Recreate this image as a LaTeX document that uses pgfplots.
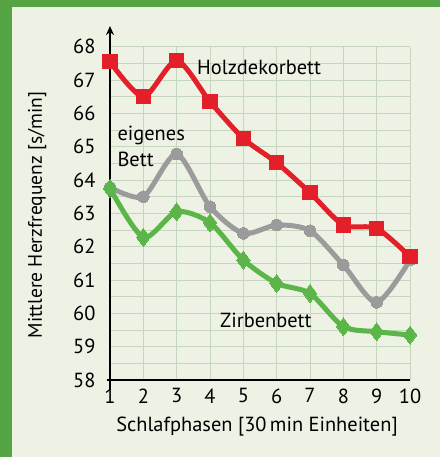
\documentclass[border=0pt]{standalone}
\usepackage{fontspec}
\setmainfont{PT Sans}
\usepackage{pgfplots}
\pgfplotsset{compat=1.18}
\usetikzlibrary{arrows.meta}
\definecolor{bordergreen}{HTML}{55A544}
\definecolor{panel}{HTML}{EDF2E4}
\definecolor{gridc}{HTML}{C6D6BE}
\definecolor{redc}{HTML}{E3202A}
\definecolor{grayc}{HTML}{9B9B9B}
\definecolor{greenc}{HTML}{5CB548}
\begin{document}
\begin{tikzpicture}[x=1bp,y=1bp]
\useasboundingbox (0,0) rectangle (440,-457);
\fill[bordergreen] (0,0) rectangle (440,-457);
\fill[panel] (12,-7) rectangle (440,-457);
\begin{axis}[
 at={(110bp,-380bp)}, anchor=south west,
 scale only axis, width=300bp, height=333.3bp,
 xmin=1,xmax=10,ymin=58,ymax=68,
 xtick={1,...,10}, ytick={58,...,68},
 minor y tick num=1,
 grid=both,
 major grid style={draw=gridc, line width=0.9bp},
 minor grid style={draw=gridc, line width=0.9bp},
 major tick length=0pt, minor tick length=0pt,
 axis line style={draw=none},
 clip=false,
 font=\fontsize{20.5}{24}\selectfont,
 tick label style={font=\fontsize{20.5}{24}\selectfont},
 /pgf/number format/assume math mode=true,
 yticklabel style={xshift=-11bp},
 xticklabel style={yshift=-5bp},
 xlabel={Schlafphasen [30\,min Einheiten]},
 xlabel style={at={(axis description cs:0.49,-0.141)}, anchor=center},
 ylabel={Mittlere Herzfrequenz [s/min]},
 ylabel style={at={(axis description cs:-0.243,0.495)}, anchor=center, rotate=0, font=\fontsize{19.6}{23}\selectfont},
 every axis plot/.append style={smooth, tension=0.45, line width=5bp},
]
\draw[line width=2.2bp] (axis cs:0.9,58) -- (axis cs:10,58);
\draw[line width=2.2bp,-{Stealth[length=9bp,width=8bp]}] (axis cs:1,57.7) -- (axis cs:1,68.62);

\addplot[grayc, mark=*, mark size=5.8bp, mark options={fill=grayc, draw=grayc, line width=0pt}]
 coordinates {(1,63.78)(2,63.5)(3,64.78)(4,63.2)(5,62.4)(6,62.65)(7,62.48)(8,61.45)(9,60.33)(10,61.6)};
\addplot[greenc, mark=diamond*, mark size=9bp, mark options={fill=greenc, draw=greenc, line width=0pt}]
 coordinates {(1,63.75)(2,62.28)(3,63.05)(4,62.72)(5,61.6)(6,60.9)(7,60.6)(8,59.6)(9,59.45)(10,59.35)};
\addplot[redc, mark=square*, mark size=7.2bp, mark options={fill=redc, draw=redc, line width=0pt}]
 coordinates {(1,67.55)(2,66.5)(3,67.58)(4,66.35)(5,65.25)(6,64.52)(7,63.62)(8,62.65)(9,62.55)(10,61.7)};

\node[anchor=west, inner sep=0pt] at (axis cs:3.61,67.39) {Holzdekorbett};
\node[anchor=west, inner sep=0pt] at (axis cs:1.22,65.35) {eigenes};
\node[anchor=west, inner sep=0pt] at (axis cs:1.22,64.63) {Bett};
\node[anchor=west, inner sep=0pt] at (axis cs:4.3,59.8) {Zirbenbett};
\end{axis}
\end{tikzpicture}
\end{document}
